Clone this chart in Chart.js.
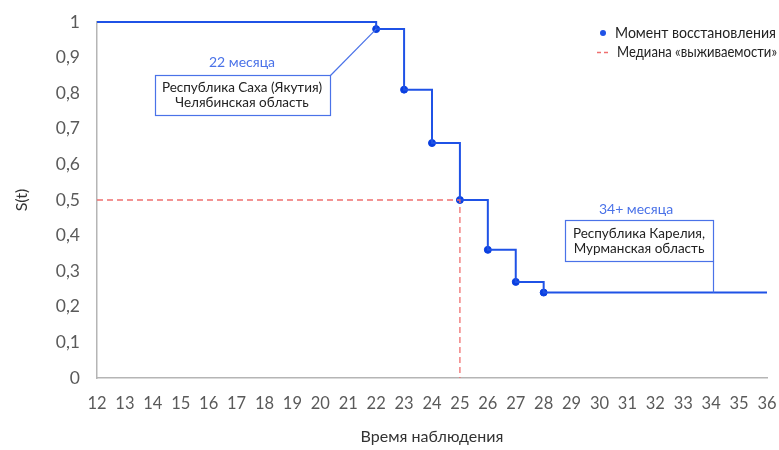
<!DOCTYPE html>
<html>
<head>
<meta charset="utf-8">
<script src="https://cdn.jsdelivr.net/npm/chart.js@4"></script>
<style>
  html, body { margin: 0; padding: 0; background: #fff; }
  #wrap { width: 779px; height: 450px; }
</style>
</head>
<body>
<div id="wrap"><canvas id="chart"></canvas></div>
<script>
// Данные кривой Каплана–Мейера
const months = [12, 22, 23, 24, 25, 26, 27, 28, 36];
const survival = [1, 0.98, 0.81, 0.66, 0.50, 0.36, 0.27, 0.24, 0.24];
const eventMonths = [22, 23, 24, 25, 26, 27, 28];
const eventSurvival = [0.98, 0.81, 0.66, 0.50, 0.36, 0.27, 0.24];
const medianX = [12, 25, 25];
const medianY = [0.5, 0.5, 0];
const yTickLabels = ["0", "0,1", "0,2", "0,3", "0,4", "0,5", "0,6", "0,7", "0,8", "0,9", "1"];

const FONT = "Lato, 'Noto Sans', sans-serif";
const lineBlue = "#1f52e6";
const noteBlue = "#4a72e8";
const medianRed = "#ef6f6f";

const zip = (xs, ys) => xs.map((x, i) => ({ x, y: ys[i] }));

// Подписи, рамки и легенда поверх графика
const notesPlugin = {
  id: "notes",
  afterDatasetsDraw(chart) {
    const { ctx, scales: { x, y } } = chart;
    ctx.save();

    // первая сноска (22 месяца)
    ctx.strokeStyle = noteBlue;
    ctx.lineWidth = 1.2;
    ctx.strokeRect(155.5, 75.5, 175, 40);
    ctx.beginPath();
    ctx.moveTo(330.5, 75.5);
    ctx.lineTo(x.getPixelForValue(22), y.getPixelForValue(0.98));
    ctx.stroke();

    // вторая сноска (34+ месяца)
    ctx.strokeRect(565.5, 220.5, 148, 41);
    ctx.beginPath();
    ctx.moveTo(713.5, 261.5);
    ctx.lineTo(713.5, y.getPixelForValue(0.24));
    ctx.stroke();

    ctx.textAlign = "center";
    ctx.textBaseline = "middle";
    ctx.fillStyle = noteBlue;
    ctx.font = "14px " + FONT;
    ctx.fillText("22 месяца", 242, 62);
    ctx.fillText("34+ месяца", 636, 209);

    ctx.fillStyle = "#222";
    ctx.font = "13.5px " + FONT;
    ctx.fillText("Республика Саха (Якутия)", 242, 88);
    ctx.fillText("Челябинская область", 242, 103);
    ctx.fillText("Республика Карелия,", 639, 234);
    ctx.fillText("Мурманская область", 639, 249);

    // легенда
    ctx.textAlign = "left";
    ctx.font = "16px " + FONT;
    ctx.fillStyle = lineBlue;
    ctx.beginPath();
    ctx.arc(603, 33, 3, 0, Math.PI * 2);
    ctx.fill();
    ctx.fillStyle = "#222";
    ctx.fillText("Момент восстановления", 615, 33, 161);

    ctx.strokeStyle = medianRed;
    ctx.lineWidth = 1.3;
    ctx.setLineDash([4, 3]);
    ctx.beginPath();
    ctx.moveTo(597, 52.5);
    ctx.lineTo(611, 52.5);
    ctx.stroke();
    ctx.setLineDash([]);
    ctx.fillText("Медиана «выживаемости»", 617, 52, 160);

    ctx.restore();
  }
};

new Chart(document.getElementById("chart"), {
  type: "line",
  data: {
    datasets: [
      {
        label: "Медиана «выживаемости»",
        data: zip(medianX, medianY),
        borderColor: medianRed,
        borderWidth: 1.3,
        borderDash: [6, 4],
        pointRadius: 0,
        fill: false
      },
      {
        label: "S(t)",
        data: zip(months, survival),
        stepped: true,
        borderColor: lineBlue,
        borderWidth: 2,
        pointRadius: 0,
        fill: false,
        clip: false
      },
      {
        type: "scatter",
        label: "Момент восстановления",
        data: zip(eventMonths, eventSurvival),
        backgroundColor: "#0a3fe0",
        borderColor: "#0a3fe0",
        pointRadius: 3.5,
        clip: false
      }
    ]
  },
  options: {
    responsive: true,
    maintainAspectRatio: false,
    animation: false,
    layout: { padding: { top: 22, right: 12, left: 8, bottom: 0 } },
    plugins: {
      legend: { display: false },
      tooltip: { enabled: false }
    },
    scales: {
      x: {
        type: "linear",
        min: 12,
        max: 36,
        grid: { display: false },
        border: { display: true, color: "#b5b5b5", width: 1.5 },
        ticks: {
          stepSize: 1,
          color: "#5a5a5a",
          padding: 8,
          maxRotation: 0,
          autoSkip: false,
          font: { size: 16.5, family: FONT }
        },
        title: {
          display: true,
          text: "Время наблюдения",
          color: "#333",
          padding: { top: 20 },
          font: { size: 16, family: FONT }
        },
        afterFit: (scale) => {
          scale.height = 72;
          scale.paddingLeft = 0;
          scale.paddingRight = 0;
        }
      },
      y: {
        min: 0,
        max: 1,
        grid: { display: false },
        border: { display: true, color: "#b5b5b5", width: 1.5 },
        ticks: {
          stepSize: 0.1,
          color: "#5a5a5a",
          padding: 9,
          font: { size: 17.5, family: FONT },
          callback: (value, i) => yTickLabels[i]
        },
        title: {
          display: true,
          text: "S(t)",
          color: "#333",
          font: { size: 16, family: FONT }
        },
        afterFit: (scale) => { scale.width = 89; }
      }
    }
  },
  plugins: [notesPlugin]
});
</script>
</body>
</html>
